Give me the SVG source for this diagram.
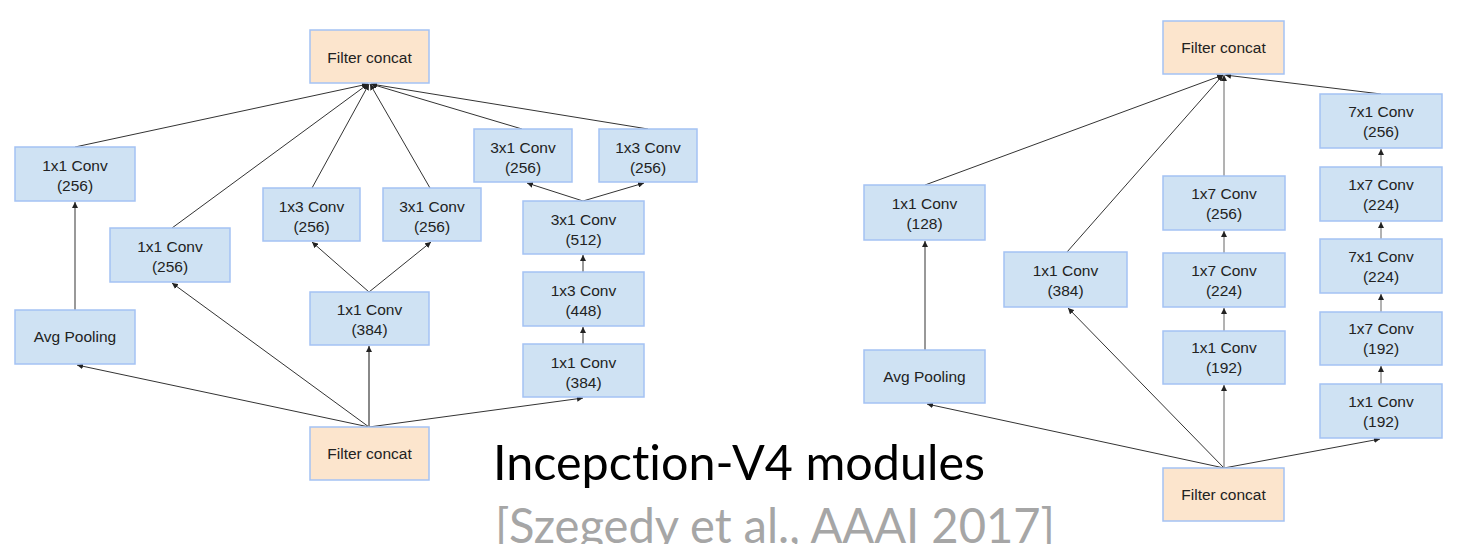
<svg xmlns="http://www.w3.org/2000/svg" width="1462" height="544" viewBox="0 0 1462 544">
<defs>
<style>
.box{fill:#cfe2f3;stroke:#a4c2f4;stroke-width:1.5}
.cat{fill:#fce5cd;stroke:#a4c2f4;stroke-width:1.5}
.t{font-family:"Liberation Sans",Arial,sans-serif;font-size:15.5px;fill:#222;text-anchor:middle}
.e{stroke:#333;stroke-width:1;fill:none;marker-end:url(#ah)}
.g{stroke:#888;stroke-width:2;fill:none;marker-end:url(#ah)}
.title{font-family:Lato,"Open Sans",sans-serif;font-size:48px;fill:#000;font-variant-ligatures:none}
.sub{font-family:Lato,"Open Sans",sans-serif;font-size:48px;fill:#a6a6a6;font-variant-ligatures:none}
</style>
<marker id="ah" markerWidth="6" markerHeight="6" refX="6" refY="3" orient="auto" markerUnits="userSpaceOnUse">
<path d="M0,0 L6,3 L0,6 z" fill="#222"/>
</marker>
</defs>
<rect width="1462" height="544" fill="#fff"/>

<g id="connectors">
<line class="e" x1="75" y1="147" x2="368" y2="84"/>
<line class="e" x1="172" y1="228" x2="368" y2="84"/>
<line class="e" x1="312" y1="188" x2="369" y2="84"/>
<line class="e" x1="430" y1="188" x2="370" y2="84"/>
<line class="e" x1="522" y1="129" x2="371" y2="84"/>
<line class="e" x1="648" y1="129" x2="371" y2="84"/>
<line class="g" x1="75" y1="310" x2="75" y2="202" style="stroke:#777;stroke-width:1.5"/>
<line class="e" x1="369" y1="427" x2="77" y2="365"/>
<line class="e" x1="369" y1="427" x2="172" y2="283"/>
<line class="g" x1="369" y1="427" x2="369" y2="346"/>
<line class="e" x1="369" y1="427" x2="583" y2="398"/>
<line class="e" x1="369" y1="292" x2="312" y2="242"/>
<line class="e" x1="369" y1="292" x2="431" y2="242"/>
<line class="e" x1="583" y1="344" x2="583" y2="327"/>
<line class="e" x1="583" y1="272" x2="583" y2="255"/>
<line class="e" x1="583" y1="201" x2="527" y2="183"/>
<line class="e" x1="583" y1="201" x2="644" y2="183"/>

<line class="e" x1="925" y1="185" x2="1223" y2="75"/>
<line class="e" x1="1067" y1="252" x2="1223" y2="75"/>
<line class="e" x1="1224" y1="176" x2="1224" y2="75" style="stroke:#666"/>
<line class="e" x1="1381" y1="94" x2="1225" y2="75"/>
<line class="e" x1="925" y1="350" x2="925" y2="241"/>
<line class="e" x1="1224" y1="468" x2="927" y2="404"/>
<line class="e" x1="1224" y1="468" x2="1068" y2="308"/>
<line class="e" x1="1224" y1="468" x2="1224" y2="385" style="stroke:#666"/>
<line class="e" x1="1224" y1="468" x2="1380" y2="439"/>
<line class="e" x1="1224" y1="331" x2="1224" y2="308" style="stroke:#666"/>
<line class="e" x1="1224" y1="253" x2="1224" y2="231" style="stroke:#666"/>
<line class="e" x1="1381" y1="384" x2="1381" y2="366" style="stroke:#666"/>
<line class="e" x1="1381" y1="312" x2="1381" y2="294" style="stroke:#666"/>
<line class="e" x1="1381" y1="239" x2="1381" y2="222" style="stroke:#666"/>
<line class="e" x1="1381" y1="167" x2="1381" y2="149" style="stroke:#666"/>
</g>

<g id="lc_top"><rect class="cat" x="310" y="30" width="119" height="53"/><text class="t" x="369.5" y="63">Filter concat</text></g>
<g id="l_1x1a"><rect class="box" x="15" y="147" width="120" height="54"/><text class="t" x="75" y="171">1x1 Conv</text><text class="t" x="75" y="190.5">(256)</text></g>
<g id="l_1x1b"><rect class="box" x="110" y="228" width="120" height="54"/><text class="t" x="170" y="252">1x1 Conv</text><text class="t" x="170" y="271.5">(256)</text></g>
<g id="l_1x3a"><rect class="box" x="263" y="188" width="97" height="53"/><text class="t" x="311.5" y="212">1x3 Conv</text><text class="t" x="311.5" y="231.5">(256)</text></g>
<g id="l_3x1a"><rect class="box" x="383" y="188" width="98" height="53"/><text class="t" x="432" y="212">3x1 Conv</text><text class="t" x="432" y="231.5">(256)</text></g>
<g id="l_avg"><rect class="box" x="15" y="310" width="120" height="54"/><text class="t" x="75" y="342">Avg Pooling</text></g>
<g id="l_1x1c"><rect class="box" x="310" y="292" width="119" height="53"/><text class="t" x="369.5" y="315">1x1 Conv</text><text class="t" x="369.5" y="334.5">(384)</text></g>
<g id="lc_bot"><rect class="cat" x="310" y="427" width="119" height="53"/><text class="t" x="369.5" y="459">Filter concat</text></g>
<g id="l_3x1b"><rect class="box" x="474" y="129" width="98" height="53"/><text class="t" x="523" y="153">3x1 Conv</text><text class="t" x="523" y="172.5">(256)</text></g>
<g id="l_1x3b"><rect class="box" x="599" y="129" width="98" height="53"/><text class="t" x="648" y="153">1x3 Conv</text><text class="t" x="648" y="172.5">(256)</text></g>
<g id="l_3x1c"><rect class="box" x="523" y="201" width="121" height="53"/><text class="t" x="583.5" y="225">3x1 Conv</text><text class="t" x="583.5" y="244.5">(512)</text></g>
<g id="l_1x3c"><rect class="box" x="523" y="272" width="121" height="54"/><text class="t" x="583.5" y="296">1x3 Conv</text><text class="t" x="583.5" y="315.5">(448)</text></g>
<g id="l_1x1d"><rect class="box" x="523" y="344" width="121" height="53"/><text class="t" x="583.5" y="368">1x1 Conv</text><text class="t" x="583.5" y="387.5">(384)</text></g>

<g id="rc_top"><rect class="cat" x="1163" y="21" width="121" height="53"/><text class="t" x="1223.5" y="53">Filter concat</text></g>
<g id="r_128"><rect class="box" x="864" y="185" width="121" height="55"/><text class="t" x="924.5" y="209">1x1 Conv</text><text class="t" x="924.5" y="229">(128)</text></g>
<g id="r_384"><rect class="box" x="1004" y="252" width="123" height="55"/><text class="t" x="1065.5" y="276">1x1 Conv</text><text class="t" x="1065.5" y="296">(384)</text></g>
<g id="r_avg"><rect class="box" x="864" y="350" width="121" height="53"/><text class="t" x="924.5" y="382">Avg Pooling</text></g>
<g id="rc_bot"><rect class="cat" x="1163" y="468" width="121" height="53"/><text class="t" x="1223.5" y="500">Filter concat</text></g>
<g id="r_m3"><rect class="box" x="1163" y="176" width="122" height="54"/><text class="t" x="1224" y="199">1x7 Conv</text><text class="t" x="1224" y="219">(256)</text></g>
<g id="r_m2"><rect class="box" x="1163" y="253" width="122" height="54"/><text class="t" x="1224" y="276">1x7 Conv</text><text class="t" x="1224" y="296">(224)</text></g>
<g id="r_m1"><rect class="box" x="1163" y="331" width="122" height="53"/><text class="t" x="1224" y="353">1x1 Conv</text><text class="t" x="1224" y="373">(192)</text></g>
<g id="r_r5"><rect class="box" x="1320" y="94" width="122" height="54"/><text class="t" x="1381" y="117">7x1 Conv</text><text class="t" x="1381" y="137">(256)</text></g>
<g id="r_r4"><rect class="box" x="1320" y="167" width="122" height="54"/><text class="t" x="1381" y="190">1x7 Conv</text><text class="t" x="1381" y="210">(224)</text></g>
<g id="r_r3"><rect class="box" x="1320" y="239" width="122" height="54"/><text class="t" x="1381" y="262">7x1 Conv</text><text class="t" x="1381" y="282">(224)</text></g>
<g id="r_r2"><rect class="box" x="1320" y="312" width="122" height="53"/><text class="t" x="1381" y="334">1x7 Conv</text><text class="t" x="1381" y="354">(192)</text></g>
<g id="r_r1"><rect class="box" x="1320" y="384" width="122" height="54"/><text class="t" x="1381" y="407">1x1 Conv</text><text class="t" x="1381" y="427">(192)</text></g>

<g id="caption">
<text class="title" x="493" y="480" textLength="492" lengthAdjust="spacingAndGlyphs">Incepction-V4 modules</text>
<text class="sub" x="495" y="543" textLength="560" lengthAdjust="spacingAndGlyphs">[Szegedy et al., AAAI 2017]</text>
</g>
</svg>
